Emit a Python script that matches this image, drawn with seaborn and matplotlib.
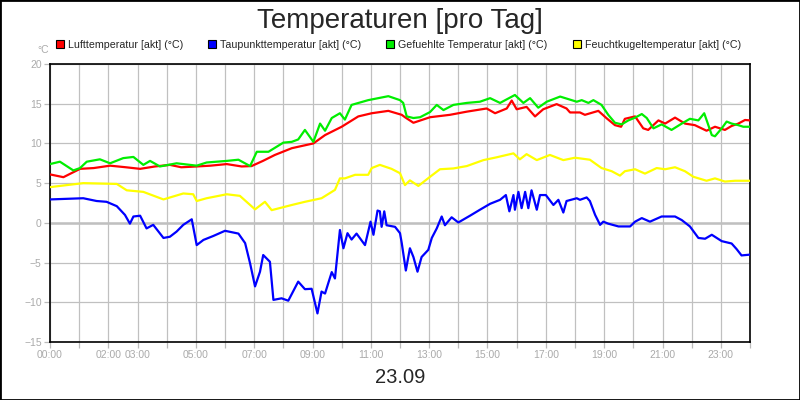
import pandas as pd
import matplotlib.pyplot as plt
import seaborn as sns
from matplotlib.lines import Line2D
from matplotlib.patches import Rectangle

luft_h = [0.0, 0.46, 1.03, 1.5, 2.06, 2.6, 3.09, 3.6, 4.11, 4.5, 5.03, 5.5, 6.06, 6.57, 6.91,
          7.3, 7.71, 8.29, 9.03, 9.43, 10.0, 10.57, 11.03, 11.6, 12.06, 12.17, 12.46, 13.03,
          13.71, 14.29, 14.97, 15.26, 15.66, 15.83, 16.0, 16.34, 16.63, 16.91, 17.37, 17.71,
          17.83, 18.17, 18.34, 18.8, 19.09, 19.37, 19.58, 19.71, 20.06, 20.34, 20.51, 20.86,
          21.09, 21.43, 21.77, 22.11, 22.51, 22.8, 23.14, 23.37, 23.6, 23.83, 24.0]
luft_t = [6.1, 5.75, 6.8, 6.9, 7.2, 7.0, 6.8, 7.1, 7.3, 7.0, 7.1, 7.2, 7.4, 7.1, 7.15,
          7.8, 8.55, 9.4, 10.0, 11.05, 12.1, 13.4, 13.8, 14.1, 13.6, 13.3, 12.6, 13.3,
          13.6, 14.0, 14.4, 13.8, 14.4, 15.4, 14.3, 14.6, 13.4, 14.3, 14.95, 14.4,
          13.9, 13.9, 13.6, 14.1, 13.15, 12.3, 12.1, 13.1, 13.4, 11.9, 11.7, 12.9,
          12.5, 13.25, 12.5, 12.3, 11.6, 12.1, 11.7, 12.2, 12.5, 12.95, 12.9]

tau_h = [0.0, 1.14, 1.6, 1.94, 2.29, 2.57, 2.74, 2.86, 3.09, 3.31, 3.54, 3.89, 4.11, 4.34,
         4.57, 4.86, 5.03, 5.26, 5.6, 6.0, 6.46, 6.69, 6.86, 7.03, 7.2, 7.31, 7.54, 7.66,
         7.94, 8.17, 8.51, 8.74, 8.97, 9.17, 9.31, 9.43, 9.54, 9.66, 9.77, 9.94, 10.06,
         10.2, 10.34, 10.51, 10.8, 10.99, 11.09, 11.23, 11.31, 11.37, 11.46, 11.54, 11.83,
         12.0, 12.06, 12.2, 12.34, 12.46, 12.6, 12.74, 12.97, 13.09, 13.26, 13.43, 13.54,
         13.77, 14.0, 14.4, 14.74, 15.09, 15.43, 15.63, 15.75, 15.89, 15.94, 16.06, 16.17,
         16.29, 16.4, 16.51, 16.69, 16.8, 17.0, 17.26, 17.43, 17.6, 17.71, 18.06, 18.17,
         18.4, 18.51, 18.69, 18.86, 18.97, 19.14, 19.49, 19.89, 20.06, 20.29, 20.57, 20.97,
         21.43, 21.66, 21.94, 22.23, 22.46, 22.69, 23.03, 23.37, 23.54, 23.71, 24.0]
tau_t = [2.95, 3.1, 2.75, 2.65, 2.1, 1.0, -0.1, 0.8, 0.9, -0.7, -0.25, -1.9, -1.75, -1.1,
         -0.25, 0.45, -2.8, -2.15, -1.65, -1.0, -1.35, -2.55, -5.1, -8.0, -6.15, -4.05, -4.9, -9.7,
         -9.5, -9.8, -7.4, -8.35, -8.3, -11.4, -8.65, -8.9, -7.6, -6.2, -7.0, -0.9, -3.2,
         -1.3, -2.1, -1.35, -2.8, 0.15, -1.5, 1.55, 1.45, -0.5, 1.45, -0.3, -0.5,
         -1.3, -2.55, -6.0, -3.2, -4.3, -6.15, -4.3, -3.4, -1.9, -0.7, 0.8, -0.3,
         0.7, 0.05, 0.9, 1.65, 2.4, 2.9, 3.5, 1.45, 3.5, 1.65, 3.9, 1.85,
         3.9, 1.85, 4.1, 1.65, 3.5, 3.5, 2.25, 2.9, 1.3, 2.75, 3.1, 2.9,
         3.2, 2.75, 1.0, -0.25, 0.15, -0.1, -0.45, -0.45, 0.15, 0.6, 0.15, 0.8,
         0.8, 0.35, -0.45, -1.9, -2.0, -1.5, -2.3, -2.6, -3.3, -4.1, -4.0]

gef_h = [0.0, 0.34, 0.8, 1.03, 1.26, 1.71, 2.06, 2.51, 2.86, 3.2, 3.43, 3.77, 4.34, 5.03,
         5.37, 6.06, 6.46, 6.86, 7.09, 7.49, 8.0, 8.29, 8.51, 8.74, 9.03, 9.26, 9.43, 9.66,
         9.94, 10.11, 10.34, 10.91, 11.6, 12.0, 12.11, 12.23, 12.46, 12.69, 13.03, 13.26,
         13.49, 13.83, 14.29, 14.74, 15.09, 15.43, 15.94, 16.23, 16.46, 16.74, 17.03, 17.49,
         18.06, 18.23, 18.46, 18.63, 18.91, 19.14, 19.37, 19.6, 19.83, 20.06, 20.29, 20.46,
         20.69, 20.97, 21.31, 21.66, 21.94, 22.23, 22.43, 22.69, 22.8, 23.03, 23.2, 23.37,
         23.6, 23.77, 24.0]
gef_t = [7.4, 7.7, 6.6, 6.9, 7.7, 8.0, 7.5, 8.15, 8.3, 7.3, 7.8, 7.1, 7.5, 7.2,
         7.6, 7.8, 7.95, 7.15, 8.95, 8.95, 10.1, 10.2, 10.5, 11.7, 10.2, 12.5, 11.6, 13.2,
         13.8, 13.0, 14.85, 15.45, 15.95, 15.45, 15.1, 13.4, 13.2, 13.3, 13.95, 14.85,
         14.2, 14.85, 15.1, 15.25, 15.7, 15.1, 16.1, 15.1, 15.7, 14.5, 15.25, 15.9,
         15.25, 15.45, 15.1, 15.45, 14.85, 13.6, 12.6, 12.4, 12.9, 13.25, 13.7, 13.2,
         11.9, 12.4, 11.7, 12.5, 13.1, 12.9, 13.8, 11.05, 10.9, 11.9, 12.75, 12.5,
         12.3, 12.1, 12.1]

feucht_h = [0.0, 1.14, 2.29, 2.63, 3.2, 3.89, 4.57, 4.91, 5.03, 5.37, 6.06, 6.51, 7.03, 7.37,
            7.6, 8.29, 8.74, 9.31, 9.77, 9.94, 10.11, 10.46, 10.91, 11.03, 11.31, 11.71, 12.0,
            12.17, 12.34, 12.63, 13.03, 13.37, 13.83, 14.29, 14.86, 15.31, 15.89, 16.11, 16.34,
            16.69, 17.14, 17.6, 18.0, 18.51, 18.91, 19.26, 19.54, 19.71, 20.06, 20.4, 20.8,
            21.09, 21.43, 21.77, 22.06, 22.51, 22.8, 23.14, 23.49, 24.0]
feucht_t = [4.5, 5.0, 4.9, 4.1, 3.9, 2.95, 3.7, 3.6, 2.75, 3.1, 3.6, 3.4, 1.7, 2.65,
            1.6, 2.25, 2.65, 3.1, 4.15, 5.6, 5.6, 6.05, 6.05, 6.9, 7.3, 6.8, 6.25,
            4.75, 5.35, 4.65, 5.8, 6.75, 6.85, 7.15, 7.9, 8.25, 8.75, 8.0, 8.65,
            7.9, 8.55, 7.9, 8.2, 7.95, 6.9, 6.5, 5.95, 6.5, 6.75, 6.2, 6.9,
            6.75, 7.0, 6.5, 5.8, 5.3, 5.6, 5.2, 5.3, 5.3]

namen = ["Lufttemperatur [akt] (°C)", "Taupunkttemperatur [akt] (°C)",
         "Gefuehlte Temperatur [akt] (°C)", "Feuchtkugeltemperatur [akt] (°C)"]
farben = ["#ff0000", "#0000ff", "#00ee00", "#ffff00"]
label_stunden = [0, 2, 3, 5, 7, 9, 11, 13, 15, 17, 19, 21, 23]

sns.set_style("white")
plt.rcParams['font.family'] = ['Liberation Sans', 'DejaVu Sans']

fig = plt.figure(figsize=(8, 4), dpi=100)
ax = fig.add_axes([0.0625, 0.145, 0.875, 0.695])

daten = [(luft_h, luft_t), (tau_h, tau_t), (gef_h, gef_t), (feucht_h, feucht_t)]
for (h, t), name, farbe in zip(daten, namen, farben):
    df = pd.DataFrame({"stunde": h, "temp": t})
    sns.lineplot(data=df, x="stunde", y="temp", color=farbe, linewidth=1.6, ax=ax, zorder=3)

ax.set_xlim(0, 24)
ax.set_ylim(-15, 20)
ax.set_yticks(range(-15, 21, 5))
ax.set_xticks(range(0, 25))
ax.set_xticklabels([f"{s:02d}:00" if s in label_stunden else "" for s in range(25)])
ax.set_xlabel("")
ax.set_ylabel("")
ax.grid(True, color="#c0c0c0", linewidth=0.9)
ax.axhline(0, color="#c0c0c0", linewidth=1.8, zorder=1)
ax.tick_params(axis="both", colors="#bbbbbb", labelcolor="#aaaaaa", length=4,
               width=0.9, labelsize=7.5, pad=2, direction="out")
ax.tick_params(axis="x", bottom=True)
ax.tick_params(axis="y", left=True)
for sp in ax.spines.values():
    sp.set_color("black")
    sp.set_linewidth(1.2)

# Legende mit kleinen Quadraten
handles = [Line2D([], [], marker="s", linestyle="none", markersize=6,
                  markerfacecolor=f, markeredgecolor="black", markeredgewidth=0.8)
           for f in farben]
fig.legend(handles, namen, loc="center left", bbox_to_anchor=(56 / 800, 1 - 44.5 / 400),
           ncol=4, frameon=False, fontsize=7.7, handlelength=0.8, handletextpad=0.35,
           columnspacing=2.3, borderpad=0, borderaxespad=0)

fig.text(0.5, 0.93, "Temperaturen [pro Tag]", ha="center", va="baseline", fontsize=20)
fig.text(0.5, 0.0425, "23.09", ha="center", va="baseline", fontsize=14.5)
fig.text(43 / 800, 1 - 53 / 400, "°C", ha="center", va="baseline", fontsize=7.5, color="#aaaaaa")

fig.patches.append(Rectangle((0, 0), 1, 1, transform=fig.transFigure, fill=False,
                             edgecolor="black", linewidth=2, zorder=10))

fig.savefig("out.png", dpi=100)
